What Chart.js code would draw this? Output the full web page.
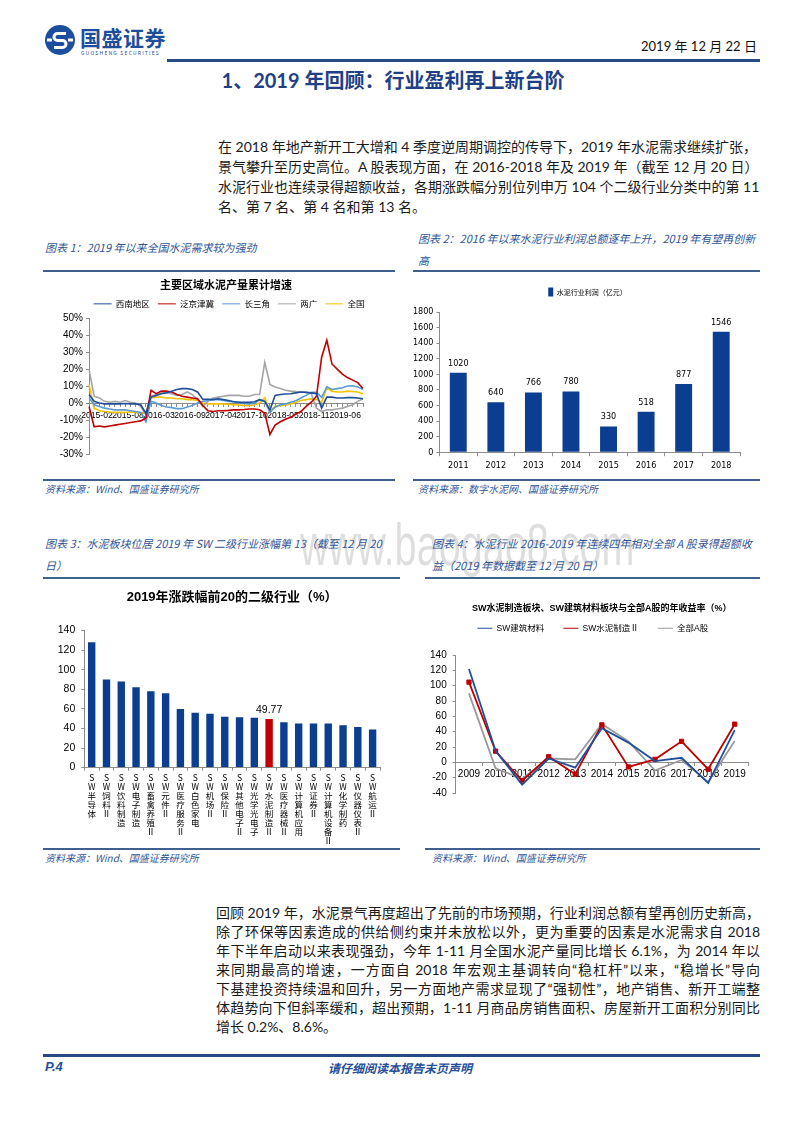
<!DOCTYPE html>
<html>
<head>
<meta charset="utf-8">
<script src="https://cdn.jsdelivr.net/npm/chart.js@4.4.0/dist/chart.umd.min.js"></script>
<style>
  body { margin: 0; width: 800px; height: 1132px; position: relative; background: #fff; overflow: hidden;
         font-family: "Noto Sans CJK SC", sans-serif; color: #1a1a1a; }
  .abs { position: absolute; }
  .rule { position: absolute; height: 2px; background: #3f5f8f; }
  .cap { position: absolute; font-size: 11px; font-style: italic; color: #2f5597; white-space: nowrap; line-height: 16px; }
  .body-line { position: absolute; height: 20px; line-height: 20px; font-size: 14px; white-space: nowrap;
               font-family: Lato, "Noto Sans CJK SC", sans-serif; text-align: justify; text-align-last: justify; }
  .body-line.last { text-align-last: left; }
  canvas { position: absolute; }
</style>
</head>
<body>

<!-- header -->
<svg class="abs" style="left:44px;top:24px" width="32" height="32" viewBox="0 0 32 32">
  <circle cx="16" cy="16" r="15" fill="#1c4e9d"/>
  <path d="M22 9.5 H13.5 a3.5 3.5 0 0 0 0 7 h5 a3.5 3.5 0 0 1 0 7 H10" stroke="#fff" stroke-width="3" fill="none"/>
  <rect x="3" y="14.5" width="5" height="3" fill="#fff"/>
  <rect x="24" y="14.5" width="5" height="3" fill="#fff"/>
</svg>
<div class="abs" style="left:80px;top:24px;font-size:21px;font-weight:bold;color:#1c4e9d;line-height:26px;letter-spacing:0.5px">国盛证券</div>
<div class="abs" style="left:81px;top:50px;font-size:5px;color:#1c4e9d;letter-spacing:1.2px;line-height:6px">GUOSHENG SECURITIES</div>
<div class="abs" style="right:43px;top:37px;font-size:13px;line-height:18px;font-family:Lato,'Noto Sans CJK SC';color:#111">2019 年 12 月 22 日</div>
<div class="abs" style="left:167px;top:59px;width:593px;height:3px;background:#264a86"></div>

<div class="abs" style="left:0;width:786px;top:66px;text-align:center;font-size:20px;font-weight:bold;color:#1f3f86;line-height:28px;font-family:Lato,'Noto Sans CJK SC'">1、2019 年回顾：行业盈利再上新台阶</div>

<!-- paragraph 1 -->
<div class="body-line" style="left:218px;width:539px;top:137px">在 2018 年地产新开工大增和 4 季度逆周期调控的传导下，2019 年水泥需求继续扩张，</div>
<div class="body-line" style="left:218px;width:539px;top:157px">景气攀升至历史高位。A 股表现方面，在 2016-2018 年及 2019 年（截至 12 月 20 日）</div>
<div class="body-line" style="left:218px;width:539px;top:177px">水泥行业也连续录得超额收益，各期涨跌幅分别位列申万 104 个二级行业分类中的第 11</div>
<div class="body-line last" style="left:218px;width:539px;top:197px">名、第 7 名、第 4 名和第 13 名。</div>

<!-- captions row 1 -->
<div class="cap" style="left:45px;top:239px">图表 1：2019 年以来全国水泥需求较为强劲</div>
<div class="cap" style="left:418px;top:230px">图表 2：2016 年以来水泥行业利润总额逐年上升，2019 年有望再创新</div>
<div class="cap" style="left:418px;top:252px">高</div>
<div class="rule" style="left:43px;width:352px;top:270px"></div>
<div class="rule" style="left:413px;width:347px;top:270px"></div>

<!-- watermark -->
<div class="abs" style="left:300px;top:510px;font-size:60px;line-height:70px;color:rgba(0,0,0,0.13);font-family:'Liberation Sans',Arial;white-space:nowrap;transform:scaleX(0.66);transform-origin:left top">www.baogao8.com</div>

<canvas id="c1" width="378" height="187" style="left:40px;top:276px"></canvas>
<canvas id="c2" width="355" height="201" style="left:410px;top:276px"></canvas>

<div class="rule" style="left:43px;width:352px;top:479px"></div>
<div class="rule" style="left:413px;width:347px;top:479px"></div>
<div class="cap" style="left:45px;top:481px;font-size:10px">资料来源：Wind、国盛证券研究所</div>
<div class="cap" style="left:418px;top:481px;font-size:10px">资料来源：数字水泥网、国盛证券研究所</div>

<!-- captions row 2 -->
<div class="cap" style="left:45px;top:535px">图表 3：水泥板块位居 2019 年 SW 二级行业涨幅第 13（截至 12 月 20</div>
<div class="cap" style="left:45px;top:557px">日）</div>
<div class="cap" style="left:432px;top:535px">图表 4：水泥行业 2016-2019 年连续四年相对全部 A 股录得超额收</div>
<div class="cap" style="left:432px;top:557px">益（2019 年数据截至 12 月 20 日）</div>
<div class="rule" style="left:43px;width:357px;top:577px"></div>
<div class="rule" style="left:425px;width:335px;top:577px"></div>

<canvas id="c3" width="350" height="262" style="left:40px;top:586px"></canvas>
<canvas id="c4" width="375" height="204" style="left:410px;top:601px"></canvas>

<div class="rule" style="left:43px;width:357px;top:848px"></div>
<div class="rule" style="left:425px;width:335px;top:848px"></div>
<div class="cap" style="left:45px;top:850px;font-size:10px">资料来源：Wind、国盛证券研究所</div>
<div class="cap" style="left:432px;top:850px;font-size:10px">资料来源：Wind、国盛证券研究所</div>

<!-- paragraph 2 -->
<div class="body-line" style="left:216px;width:544px;top:903px">回顾 2019 年，水泥景气再度超出了先前的市场预期，行业利润总额有望再创历史新高，</div>
<div class="body-line" style="left:216px;width:544px;top:922px">除了环保等因素造成的供给侧约束并未放松以外，更为重要的因素是水泥需求自 2018</div>
<div class="body-line" style="left:216px;width:544px;top:941px">年下半年启动以来表现强劲，今年 1-11 月全国水泥产量同比增长 6.1%，为 2014 年以</div>
<div class="body-line" style="left:216px;width:544px;top:960px">来同期最高的增速，一方面自 2018 年宏观主基调转向“稳杠杆”以来，“稳增长”导向</div>
<div class="body-line" style="left:216px;width:544px;top:979px">下基建投资持续温和回升，另一方面地产需求显现了“强韧性”，地产销售、新开工端整</div>
<div class="body-line" style="left:216px;width:544px;top:998px">体趋势向下但斜率缓和，超出预期，1-11 月商品房销售面积、房屋新开工面积分别同比</div>
<div class="body-line last" style="left:216px;width:544px;top:1017px">增长 0.2%、8.6%。</div>

<!-- footer -->
<div class="abs" style="left:43px;top:1054px;width:717px;height:3px;background:#264a86"></div>
<div class="abs" style="left:45px;top:1059px;font-size:13px;font-weight:bold;font-style:italic;color:#1f4e9a;font-family:'Liberation Sans',Arial">P.4</div>
<div class="abs" style="left:0;width:800px;top:1059px;text-align:center;font-size:12px;font-weight:bold;font-style:italic;color:#1f4e9a">请仔细阅读本报告末页声明</div>

<script>
// ---- data ----
const months = [
  '2015-02','2015-03','2015-04','2015-05','2015-06','2015-07','2015-08','2015-09','2015-10','2015-11','2015-12',
  '2016-02','2016-03','2016-04','2016-05','2016-06','2016-07','2016-08','2016-09','2016-10','2016-11','2016-12',
  '2017-02','2017-03','2017-04','2017-05','2017-06','2017-07','2017-08','2017-09','2017-10','2017-11','2017-12',
  '2018-02','2018-03','2018-04','2018-05','2018-06','2018-07','2018-08','2018-09','2018-10','2018-11','2018-12',
  '2019-02','2019-03','2019-04','2019-05','2019-06','2019-07','2019-08','2019-09','2019-10','2019-11'
];
const southwest = [5, 1, 0, -0.5, -0.5, -0.5, -0.5, -0.3, -0.5, -0.5, -1,
  -6, 3.5, 4.5, 5.5, 6, 7, 8, 8.5, 8.5, 8, 6.5,
  2.2, 2.2, 2, 2.5, 2, 1.5, 0.8, 0.5, 0.4, 0.4, 0.8,
  2, 1, -4, 4.5, 5, 5.3, 5.5, 6, 6.5, 6.3, 6,
  5.5, -3, 3.5, 3.5, 3, 3, 3.2, 3.2, 3, 2.5];
const jingjinji = [-2, -14, -13.5, -14, -13.5, -13, -12.5, -12, -11.5, -11, -10.5,
  -9, 7.5, 5.5, 7, 7, 6.5, 5, 4, 3.5, 3, 2.5,
  -1.5, -4.5, -5, -4.5, -4.5, -4.3, -4, -4, -3.8, -3.5, -3.5,
  -4, -6, -18.5, -13, -11, -9.5, -8.4, -6.5, -5, -2, 0.5,
  4, 27, 37, 23, 20, 17, 15, 13.5, 12, 8.5];
const yangtze = [3, -1, -2, -3, -3.5, -4, -4, -4, -4.5, -5, -5.5,
  -11, 1, 0, -1.5, -2.3, -2.7, -3.3, -3.3, -2.3, -1.5, 0,
  1, 1.5, 2, 2, 1.5, 1, 0.8, 0.4, -0.2, -0.6, -0.2,
  2, 1, -5.5, -2.5, -1, -0.6, 0.5, 1.4, 3, 4.5, 6.3,
  6.3, 3.3, 9.5, 8, 8.5, 9, 10, 10.2, 9.5, 8];
const guangdong = [20, 4, 3, 1, 0.5, 1, 0.5, 1.5, 0.5, 0, -2,
  -7, 4, 5, 6, 6, 5.5, 4.5, 5, 6.5, 5, 2,
  -2, 1, 3, 3.5, 4, 4.5, 4.5, 4.5, 4, 4, 5,
  5, 24, 11, 9.5, 8.5, 7.5, 7, 6.7, 6.5, 6.3, 5.5,
  -3, -5, -4, -4, -3.5, -3, -2, -1, 1, 2.5];
const national = [11, -3, -4.5, -5, -5.3, -5.5, -5.5, -5.5, -5.3, -5.5, -5.7,
  -6, 3, 3.5, 3.5, 3, 3, 2.5, 2.5, 2, 2, 1.5,
  0, -0.5, -0.5, -0.5, -0.6, -0.8, -1, -1.2, -1.4, -1.6, -1.2,
  0, 3, -4.5, -2, -1.5, -1.2, -0.5, 0.4, 1.5, 2, 2.5,
  2, 0.4, 9, 7, 6.5, 6.5, 7, 6.8, 6.5, 5.3];

const profitYears = ['2011', '2012', '2013', '2014', '2015', '2016', '2017', '2018'];
const profit = [1020, 640, 766, 780, 330, 518, 877, 1546];

const industries = ['SW半导体', 'SW饲料Ⅱ', 'SW饮料制造', 'SW电子制造', 'SW畜禽养殖Ⅱ', 'SW元件Ⅱ', 'SW医疗服务Ⅱ',
  'SW白色家电', 'SW机场Ⅱ', 'SW保险Ⅱ', 'SW其他电子Ⅱ', 'SW光学光电子', 'SW水泥制造Ⅱ', 'SW医疗器械Ⅱ',
  'SW计算机应用', 'SW证券Ⅱ', 'SW计算机设备Ⅱ', 'SW化学制药', 'SW仪器仪表Ⅱ', 'SW航运Ⅱ'];
const industryReturn = [128, 90, 88, 82, 78, 76, 60, 56, 55, 52, 51.5, 51, 49.77, 46.4, 45, 45, 45, 43.4, 41.4, 39];
const highlightIndustry = 'SW水泥制造Ⅱ';

const years = ['2009', '2010', '2011', '2012', '2013', '2014', '2015', '2016', '2017', '2018', '2019'];
const buildingMaterials = [121.7, 15, -29, 5, -7, 44.6, 25.7, 1.7, 6, -27, 42];
const cementSector = [104.6, 14.6, -24, 7.3, -15.4, 48.9, -6, 3.9, 27.4, -9, 49.77];
const allAShares = [90, -7.7, -21.4, 5, 3.9, 50, 27.4, -10.7, 3, -25.7, 27.9];

// ---- shared ----
const CJK = '"Noto Sans CJK SC", sans-serif';
const SANS = '"Liberation Sans", Arial, "Noto Sans CJK SC", sans-serif';
const NARROW = '"Liberation Sans Narrow", "DejaVu Sans Condensed", "Noto Sans CJK SC", sans-serif';
const NAVY = '#0b3d91';
const RED = '#c00000';
const AXIS = '#8c8c8c';

Chart.defaults.font.family = SANS;
Chart.defaults.color = '#000';
Chart.defaults.animation = false;
Chart.defaults.responsive = false;
Chart.defaults.plugins.tooltip.enabled = false;

// value labels over bars
const valueLabels = {
  id: 'valueLabels',
  afterDatasetsDraw(chart, args, opts) {
    const ctx = chart.ctx;
    const meta = chart.getDatasetMeta(0);
    const values = chart.data.datasets[0].data;
    ctx.save();
    ctx.font = opts.font;
    ctx.fillStyle = opts.color || '#000';
    ctx.textAlign = 'center';
    ctx.textBaseline = 'bottom';
    meta.data.forEach((bar, i) => {
      if (opts.only && chart.data.labels[i] !== opts.only) return;
      ctx.fillText(String(values[i]), bar.x, bar.y - opts.offset);
    });
    ctx.restore();
  }
};

function axisGrid(len) {
  return { drawOnChartArea: false, tickLength: len, color: AXIS };
}

// an empty subtitle that sits between the legend and the plot, used as a gap
function gapBelowLegend(px) {
  return { display: true, text: '', weight: 500, font: { size: 1 }, padding: { top: 0, bottom: px } };
}

// blank right-hand axis: keeps the plot narrow while title/legend centre on the whole canvas
function blankRight(w) {
  return { position: 'right', display: true, ticks: { display: false }, grid: { display: false },
           border: { display: false }, afterFit: s => { s.width = w; } };
}

// legend entries with a little extra room after the text
function spacedLabels(chart) {
  const items = Chart.defaults.plugins.legend.labels.generateLabels(chart);
  items.forEach(it => { it.text = it.text + '\u00a0\u00a0\u00a0\u00a0'; });
  return items;
}

// ---- chart 1 ----
new Chart(document.getElementById('c1'), {
  type: 'line',
  data: {
    labels: months,
    datasets: [
      { label: '西南地区', data: southwest, borderColor: '#1f4e9a' },
      { label: '泛京津冀', data: jingjinji, borderColor: '#c00000' },
      { label: '长三角', data: yangtze, borderColor: '#5b9bd5' },
      { label: '两广', data: guangdong, borderColor: '#a5a5a5' },
      { label: '全国', data: national, borderColor: '#f2c200' },
    ],
  },
  options: {
    layout: { padding: { left: 0, right: 0, top: 0, bottom: 4 } },
    elements: { point: { radius: 0 }, line: { borderWidth: 1.6, tension: 0 } },
    plugins: {
      title: { display: true, fullSize: false, text: '主要区域水泥产量累计增速', color: '#000',
               font: { family: CJK, size: 11, weight: 'bold' }, padding: { top: 2.4, bottom: 0 } },
      legend: { labels: { usePointStyle: true, pointStyle: 'line', pointStyleWidth: 18, boxHeight: 8,
                          font: { family: CJK, size: 8.5 }, color: '#000', padding: 8 } },
    },
    scales: {
      x: {
        position: { y: 0 },
        ticks: { autoSkip: false, maxRotation: 0, minRotation: 0, labelOffset: 8, padding: 4,
                 font: { family: SANS, size: 8.6 }, callback: (v, i) => (i % 6 === 0 ? months[i] : '') },
        grid: axisGrid(3),
        border: { color: AXIS },
      },
      y: {
        min: -30, max: 50,
        ticks: { stepSize: 10, callback: v => v + '%', font: { size: 10 }, padding: 3 },
        grid: axisGrid(3),
        border: { color: AXIS },
        afterFit: s => { s.width = 49; },
      },
      pad: blankRight(55),
    },
  },
});

// ---- chart 2 ----
new Chart(document.getElementById('c2'), {
  type: 'bar',
  data: {
    labels: profitYears,
    datasets: [{ label: '水泥行业利润（亿元）', data: profit, backgroundColor: NAVY,
                 categoryPercentage: 1, barPercentage: 0.45 }],
  },
  plugins: [valueLabels],
  options: {
    layout: { padding: { left: 0, right: 0, top: 0, bottom: 2 } },
    plugins: {
      legend: { labels: { boxWidth: 5, boxHeight: 9, font: { family: CJK, size: 7 }, padding: 11.5 } },
      subtitle: gapBelowLegend(4.3),
      valueLabels: { font: '9px ' + NARROW, offset: 5 },
    },
    scales: {
      x: { ticks: { font: { family: NARROW, size: 9 }, padding: 4 },
           grid: { offset: true, drawOnChartArea: false, tickLength: 4, color: AXIS }, border: { color: AXIS } },
      y: { min: 0, max: 1800,
           ticks: { stepSize: 200, font: { family: NARROW, size: 9 }, padding: 3, callback: v => String(v) },
           grid: axisGrid(3), border: { color: AXIS }, afterFit: s => { s.width = 29.5; } },
      pad: blankRight(25),
    },
  },
});

// ---- chart 3 ----
new Chart(document.getElementById('c3'), {
  type: 'bar',
  data: {
    labels: industries,
    datasets: [{ label: '涨跌幅', data: industryReturn,
                 backgroundColor: industries.map(n => (n === highlightIndustry ? RED : NAVY)),
                 categoryPercentage: 1, barPercentage: 0.5 }],
  },
  plugins: [valueLabels],
  options: {
    layout: { padding: { left: 0, right: 10, top: 0, bottom: 0 } },
    plugins: {
      legend: { display: false },
      title: { display: true, fullSize: false, text: '2019年涨跌幅前20的二级行业（%）', color: '#000',
               font: { family: SANS, size: 13, weight: 'bold' }, padding: { top: 4, bottom: 25 } },
      valueLabels: { font: '10.5px ' + SANS, offset: 4, only: highlightIndustry },
    },
    scales: {
      x: {
        ticks: { autoSkip: false, maxRotation: 0, minRotation: 0, padding: 3,
                 font: { family: CJK, size: 8.5, lineHeight: 1.05 },
                 callback: (v, i) => Array.from(industries[i]) },
        grid: { offset: true, drawOnChartArea: false, tickLength: 3, color: AXIS }, border: { color: AXIS },
      },
      y: { min: 0, max: 140, ticks: { stepSize: 20, font: { size: 10.5 }, padding: 6 },
           grid: axisGrid(3), border: { color: AXIS }, afterFit: s => { s.width = 44.3; } },
    },
  },
});

// ---- chart 4 ----
new Chart(document.getElementById('c4'), {
  type: 'line',
  data: {
    labels: years,
    datasets: [
      { label: 'SW建筑材料', data: buildingMaterials, borderColor: '#1f4e9a', pointRadius: 0 },
      { label: 'SW水泥制造Ⅱ', data: cementSector, borderColor: RED, pointStyle: 'rect', pointRadius: 3,
        pointBackgroundColor: RED, pointBorderColor: RED },
      { label: '全部A股', data: allAShares, borderColor: '#999', pointRadius: 0 },
    ],
  },
  options: {
    layout: { padding: { left: 0, right: 0, top: 0, bottom: 4 } },
    elements: { line: { borderWidth: 1.8, tension: 0 } },
    plugins: {
      title: { display: true, fullSize: false, text: 'SW水泥制造板块、SW建筑材料板块与全部A股的年收益率（%）', color: '#000',
               font: { family: SANS, size: 9, weight: 'bold' }, padding: { top: 2.6, bottom: 0 } },
      legend: { labels: { usePointStyle: true, pointStyle: 'line', pointStyleWidth: 15, boxHeight: 8,
                          font: { family: SANS, size: 8.5 }, color: '#000', padding: 9.6,
                          generateLabels: spacedLabels } },
      subtitle: gapBelowLegend(11.3),
    },
    scales: {
      x: {
        offset: true,
        position: { y: 0 },
        ticks: { font: { size: 10 }, padding: 3, maxRotation: 0 },
        grid: { offset: true, drawOnChartArea: false, tickLength: 3, color: AXIS },
        border: { color: AXIS },
      },
      y: { min: -40, max: 140, ticks: { stepSize: 20, font: { size: 10 }, padding: 6 },
           grid: axisGrid(3), border: { color: AXIS }, afterFit: s => { s.width = 45.7; } },
      pad: blankRight(37),
    },
  },
});
</script>
</body>
</html>
